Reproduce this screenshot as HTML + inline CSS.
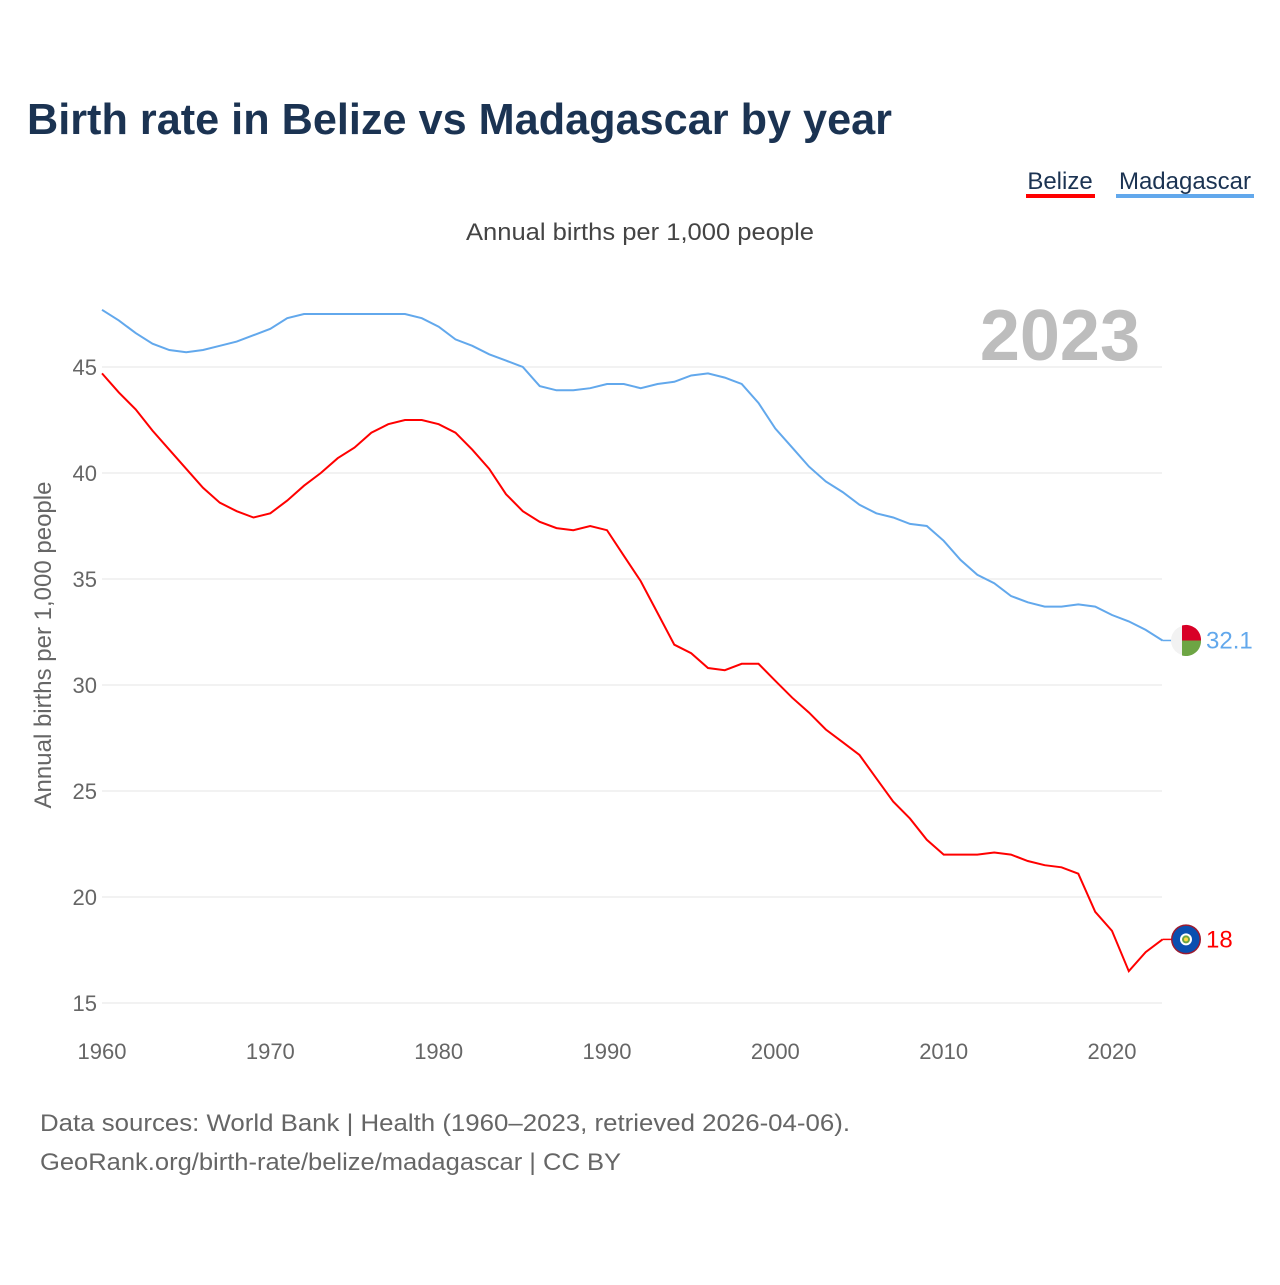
<!DOCTYPE html>
<html><head><meta charset="utf-8">
<style>
body{margin:0;background:#fff;width:1280px;height:1280px;overflow:hidden;font-family:"Liberation Sans",sans-serif}
</style></head><body>
<svg id="chart" width="1280" height="1280" xmlns="http://www.w3.org/2000/svg">
<text x="27" y="134" font-size="44" font-weight="bold" fill="#1b3352" textLength="865" lengthAdjust="spacingAndGlyphs">Birth rate in Belize vs Madagascar by year</text>
<g><text x="1060" y="189" font-size="24" fill="#1b3352" text-anchor="middle">Belize</text><rect x="1026" y="194" width="69" height="4" fill="#ff0000"/></g>
<g><text x="1185" y="189" font-size="24" fill="#1b3352" text-anchor="middle">Madagascar</text><rect x="1116" y="194" width="138" height="4" fill="#62a8ec"/></g>
<text x="466" y="240" font-size="24" fill="#444" textLength="348" lengthAdjust="spacingAndGlyphs">Annual births per 1,000 people</text>
<text x="1140" y="360" font-size="72" font-weight="bold" fill="#bdbdbd" text-anchor="end">2023</text>
<text transform="translate(51,645) rotate(-90)" font-size="24" fill="#666" text-anchor="middle">Annual births per 1,000 people</text>
<g id="grid"></g><g id="xt"></g><g id="lines"></g>
<text x="40" y="1131" font-size="24" fill="#666" textLength="810" lengthAdjust="spacingAndGlyphs">Data sources: World Bank | Health (1960–2023, retrieved 2026-04-06).</text>
<text x="40" y="1170" font-size="24" fill="#666" textLength="581" lengthAdjust="spacingAndGlyphs">GeoRank.org/birth-rate/belize/madagascar | CC BY</text>
</svg>
<script>
const years=[];for(let y=1960;y<=2023;y++)years.push(y);
const yTicks=[15,20,25,30,35,40,45];
const xTicks=[1960,1970,1980,1990,2000,2010,2020];
const madagascar=[47.7,47.2,46.6,46.1,45.8,45.7,45.8,46.0,46.2,46.5,46.8,47.3,47.5,47.5,47.5,47.5,47.5,47.5,47.5,47.3,46.9,46.3,46.0,45.6,45.3,45.0,44.1,43.9,43.9,44.0,44.2,44.2,44.0,44.2,44.3,44.6,44.7,44.5,44.2,43.3,42.1,41.2,40.3,39.6,39.1,38.5,38.1,37.9,37.6,37.5,36.8,35.9,35.2,34.8,34.2,33.9,33.7,33.7,33.8,33.7,33.3,33.0,32.6,32.1];
const belize=[44.7,43.8,43.0,42.0,41.1,40.2,39.3,38.6,38.2,37.9,38.1,38.7,39.4,40.0,40.7,41.2,41.9,42.3,42.5,42.5,42.3,41.9,41.1,40.2,39.0,38.2,37.7,37.4,37.3,37.5,37.3,36.1,34.9,33.4,31.9,31.5,30.8,30.7,31.0,31.0,30.2,29.4,28.7,27.9,27.3,26.7,25.6,24.5,23.7,22.7,22.0,22.0,22.0,22.1,22.0,21.7,21.5,21.4,21.1,19.3,18.4,16.5,17.4,18.0];
const X=y=>102+(y-1960)*(1010/60);
const Y=v=>1003-(v-15)*(636/30);
const NS="http://www.w3.org/2000/svg";
function mk(t,a,p){const e=document.createElementNS(NS,t);for(const k in a)e.setAttribute(k,a[k]);p.appendChild(e);return e;}
const g=document.getElementById('grid');
yTicks.forEach(v=>{
 const l=mk('line',{x1:102,x2:1162,y1:Y(v),y2:Y(v),stroke:'#e6e6e6','stroke-width':1},g);
 
 
 const t=mk('text',{x:97,y:Y(v)+8,'font-size':22,fill:'#666','text-anchor':'end'},g);t.textContent=v;
 
 
});
const xt=document.getElementById('xt');
xTicks.forEach(v=>{
 const t=mk('text',{x:X(v),y:1059,'font-size':22,fill:'#666','text-anchor':'middle'},xt);t.textContent=v;
 
 
});
const L=document.getElementById('lines');
function line(data,color,name){
 const d=data.map((v,i)=>(i?'L':'M')+X(years[i]).toFixed(1)+','+Y(v).toFixed(1)).join('');
 const p=mk('path',{d:d,fill:'none',stroke:color,'stroke-width':2},L);
 
 
 const last=data[data.length-1],ly=Y(last);
 mk('line',{x1:X(2023),x2:1175,y1:ly,y2:ly,stroke:color,'stroke-width':1.5},L);
 const t=mk('text',{x:1206,y:ly+8,'font-size':24,fill:color},L);t.textContent=last;
 
 
 return ly;
}
const my=line(madagascar,'#62a8ec','madagascar');
const by=line(belize,'#ff0000','belize');
const fm=mk('g',{},L);


mk('circle',{cx:1186,cy:my,r:15,fill:'#f2f2f2'},fm);
mk('path',{d:`M1182,${my-15}A15,15 0 0 1 1201,${my}L1182,${my}Z`,fill:'#d80027'},fm);
mk('path',{d:`M1182,${my}L1201,${my}A15,15 0 0 1 1182,${my+15}Z`,fill:'#6da544'},fm);
const fb=mk('g',{},L);


mk('circle',{cx:1186,cy:by,r:15,fill:'#9b1b30'},fb);
mk('circle',{cx:1186,cy:by,r:13.5,fill:'#0a4fb0'},fb);
mk('circle',{cx:1186,cy:by,r:6,fill:'#fff'},fb);
mk('circle',{cx:1186,cy:by,r:4,fill:'#6da544'},fb);
mk('circle',{cx:1186,cy:by,r:2,fill:'#ffda44'},fb);
</script>
</body></html>
